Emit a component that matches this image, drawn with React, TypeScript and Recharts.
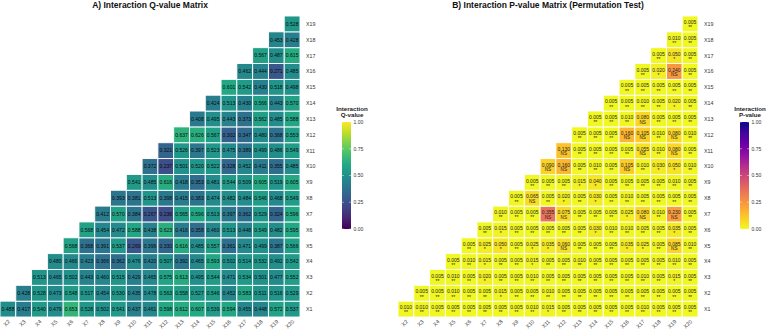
import { ScatterChart, Scatter, XAxis, YAxis } from "recharts";

const FONT = "'Liberation Sans', Arial, sans-serif";

// row variables X1..X19, column variables X2..X20
const ROW_IDS = [1, 2, 3, 4, 5, 6, 7, 8, 9, 10, 11, 12, 13, 14, 15, 16, 17, 18, 19];
const COL_IDS = [2, 3, 4, 5, 6, 7, 8, 9, 10, 11, 12, 13, 14, 15, 16, 17, 18, 19, 20];

// q-values, row Xi holds columns X(i+1)..X20
const qRows = [
  [0.488, 0.417, 0.54, 0.479, 0.653, 0.528, 0.502, 0.541, 0.437, 0.461, 0.598, 0.612, 0.607, 0.539, 0.594, 0.455, 0.448, 0.572, 0.537],
  [0.428, 0.528, 0.473, 0.548, 0.517, 0.454, 0.53, 0.435, 0.478, 0.563, 0.558, 0.527, 0.546, 0.452, 0.583, 0.511, 0.516, 0.529],
  [0.513, 0.465, 0.502, 0.443, 0.46, 0.515, 0.429, 0.465, 0.575, 0.613, 0.495, 0.544, 0.471, 0.534, 0.501, 0.477, 0.552],
  [0.48, 0.466, 0.423, 0.366, 0.362, 0.476, 0.42, 0.507, 0.392, 0.465, 0.593, 0.502, 0.514, 0.532, 0.492, 0.542],
  [0.568, 0.368, 0.391, 0.537, 0.269, 0.396, 0.33, 0.616, 0.485, 0.557, 0.361, 0.471, 0.499, 0.387, 0.566],
  [0.568, 0.454, 0.472, 0.588, 0.438, 0.623, 0.416, 0.358, 0.46, 0.513, 0.448, 0.549, 0.482, 0.595],
  [0.412, 0.57, 0.384, 0.267, 0.236, 0.565, 0.596, 0.513, 0.397, 0.362, 0.529, 0.324, 0.596],
  [0.393, 0.381, 0.513, 0.398, 0.415, 0.383, 0.474, 0.482, 0.484, 0.546, 0.468, 0.549],
  [0.541, 0.485, 0.616, 0.418, 0.353, 0.481, 0.544, 0.509, 0.605, 0.519, 0.605],
  [0.372, 0.237, 0.501, 0.52, 0.522, 0.328, 0.452, 0.411, 0.355, 0.485],
  [0.321, 0.526, 0.397, 0.523, 0.475, 0.389, 0.499, 0.486, 0.549],
  [0.637, 0.626, 0.567, 0.302, 0.347, 0.48, 0.368, 0.553],
  [0.408, 0.495, 0.443, 0.373, 0.562, 0.485, 0.588],
  [0.424, 0.513, 0.43, 0.566, 0.443, 0.57],
  [0.601, 0.542, 0.43, 0.518, 0.498],
  [0.462, 0.444, 0.271, 0.485],
  [0.567, 0.487, 0.615],
  [0.453, 0.428],
  [0.528],
];

// permutation p-values, same layout
const pRows = [
  [0.01, 0.01, 0.005, 0.005, 0.005, 0.005, 0.005, 0.005, 0.01, 0.015, 0.005, 0.005, 0.005, 0.005, 0.005, 0.01, 0.005, 0.005, 0.005],
  [0.005, 0.005, 0.01, 0.005, 0.005, 0.015, 0.005, 0.005, 0.01, 0.005, 0.005, 0.005, 0.005, 0.005, 0.005, 0.005, 0.005, 0.005],
  [0.005, 0.01, 0.005, 0.02, 0.005, 0.005, 0.01, 0.005, 0.005, 0.005, 0.005, 0.005, 0.005, 0.01, 0.005, 0.015, 0.005],
  [0.005, 0.01, 0.015, 0.005, 0.005, 0.015, 0.005, 0.005, 0.01, 0.005, 0.005, 0.005, 0.005, 0.005, 0.01, 0.005],
  [0.005, 0.025, 0.05, 0.005, 0.025, 0.035, 0.06, 0.005, 0.005, 0.005, 0.035, 0.025, 0.005, 0.085, 0.01],
  [0.005, 0.015, 0.005, 0.005, 0.005, 0.005, 0.005, 0.03, 0.01, 0.01, 0.005, 0.005, 0.035, 0.005],
  [0.01, 0.005, 0.005, 0.355, 0.075, 0.005, 0.005, 0.005, 0.025, 0.08, 0.01, 0.23, 0.005],
  [0.005, 0.065, 0.005, 0.02, 0.005, 0.03, 0.005, 0.01, 0.005, 0.005, 0.005, 0.005],
  [0.005, 0.005, 0.005, 0.015, 0.04, 0.005, 0.005, 0.005, 0.005, 0.01, 0.005],
  [0.09, 0.16, 0.005, 0.01, 0.005, 0.105, 0.01, 0.03, 0.05, 0.01],
  [0.13, 0.005, 0.005, 0.005, 0.005, 0.055, 0.01, 0.08, 0.005],
  [0.005, 0.005, 0.005, 0.16, 0.105, 0.01, 0.08, 0.01],
  [0.005, 0.005, 0.01, 0.08, 0.005, 0.005, 0.005],
  [0.005, 0.005, 0.01, 0.005, 0.02, 0.005],
  [0.005, 0.005, 0.005, 0.005, 0.005],
  [0.005, 0.02, 0.24, 0.005],
  [0.005, 0.05, 0.005],
  [0.01, 0.005],
  [0.005],
];

const LEGEND_TICKS = [0, 0.25, 0.5, 0.75, 1];

const VIRIDIS = ["#440154", "#482475", "#414487", "#355f8d", "#2a788e", "#21918c", "#22a884", "#44bf70", "#7ad151", "#bddf26", "#fde725"];
const PLASMA = ["#0d0887", "#41049d", "#6a00a8", "#8f0da4", "#b12a90", "#cc4778", "#e16462", "#f2844b", "#fca636", "#fcce25", "#f0f921"];

const hex = (h: string) => [1, 3, 5].map((i) => parseInt(h.slice(i, i + 2), 16));

function ramp(stops: string[], t: number) {
  const c = Math.max(0, Math.min(1, t)) * (stops.length - 1);
  const i = Math.min(stops.length - 2, Math.floor(c));
  const f = c - i;
  const a = hex(stops[i]);
  const b = hex(stops[i + 1]);
  const m = a.map((v, k) => Math.round(v + (b[k] - v) * f));
  return `rgb(${m[0]},${m[1]},${m[2]})`;
}

const stars = (p: number) => (p <= 0.001 ? "***" : p <= 0.01 ? "**" : p <= 0.05 ? "*" : "NS");

const toPoints = (rows: number[][]) =>
  rows.flatMap((vals, r) => vals.map((v, k) => ({ x: ROW_IDS[r] + 1 + k, y: ROW_IDS[r], v })));

const qData = toPoints(qRows);
const pData = toPoints(pRows);

const CHART_W = 330;
const CHART_H = 333;
const Y_AXIS_W = 30;
const X_AXIS_H = 16;
const TOP = 16;
const PLOT_W = CHART_W - Y_AXIS_W;
const PLOT_H = CHART_H - TOP - X_AXIS_H;
const CW = PLOT_W / COL_IDS.length;
const CH = PLOT_H / ROW_IDS.length;

const QCell = (props: any) => {
  const { cx, cy, payload } = props;
  return (
    <g>
      <rect x={cx - CW / 2} y={cy - CH / 2} width={CW} height={CH} fill={ramp(VIRIDIS, payload.v)} stroke="#fff" strokeWidth={0.9} />
      <text x={cx} y={cy + 1.8} textAnchor="middle" fontSize={5.1} fill="#0a0a0a" fontFamily={FONT}>
        {payload.v.toFixed(3)}
      </text>
    </g>
  );
};

const PCell = (props: any) => {
  const { cx, cy, payload } = props;
  const s = stars(payload.v);
  return (
    <g>
      <rect x={cx - CW / 2} y={cy - CH / 2} width={CW} height={CH} fill={ramp(PLASMA, 1 - payload.v)} stroke="#fff" strokeWidth={0.9} />
      <text x={cx} y={cy + 0.2} textAnchor="middle" fontSize={5} fill="#222" fontFamily={FONT}>
        {payload.v.toFixed(3)}
      </text>
      <text x={cx} y={s === "NS" ? cy + 4.6 : cy + 5.4} textAnchor="middle" fontSize={s === "NS" ? 4.6 : 5} fill="#222" fontFamily={FONT}>
        {s}
      </text>
    </g>
  );
};

const XTick = (props: any) => {
  const { x, y, payload } = props;
  const ax = x + 2.5;
  const ay = y + 5;
  return (
    <text x={ax} y={ay} transform={`rotate(-45 ${ax} ${ay})`} textAnchor="end" fontSize={5.4} fill="#333" fontFamily={FONT}>
      {`X${payload.value}`}
    </text>
  );
};

const YTick = (props: any) => {
  const { x, y, payload } = props;
  return (
    <text x={x + 6} y={y + 1.9} textAnchor="start" fontSize={5.3} fill="#333" fontFamily={FONT}>
      {`X${payload.value}`}
    </text>
  );
};

const Matrix = ({ data, cell, left }: { data: any[]; cell: any; left: number }) => (
  <div style={{ position: "absolute", left, top: 0 }}>
    <ScatterChart width={CHART_W} height={CHART_H} margin={{ top: TOP, right: 0, bottom: 0, left: 0 }}>
      <XAxis
        type="number"
        dataKey="x"
        domain={[1.5, 20.5]}
        ticks={COL_IDS}
        interval={0}
        allowDataOverflow
        axisLine={false}
        tickLine={false}
        tickSize={0}
        tickMargin={0}
        height={X_AXIS_H}
        tick={XTick}
      />
      <YAxis
        type="number"
        dataKey="y"
        orientation="right"
        domain={[0.5, 19.5]}
        ticks={ROW_IDS}
        interval={0}
        allowDataOverflow
        axisLine={false}
        tickLine={false}
        tickSize={0}
        tickMargin={0}
        width={Y_AXIS_W}
        tick={YTick}
      />
      <Scatter data={data} shape={cell} isAnimationActive={false} />
    </ScatterChart>
  </div>
);

const ColorBar = ({ id, stops, reverse, left, title }: { id: string; stops: string[]; reverse: boolean; left: number; title: string }) => {
  const barY = 22;
  const barH = 107;
  const barW = 9;
  const cols = reverse ? [...stops] : [...stops].reverse();
  return (
    <svg width={50} height={140} style={{ position: "absolute", left: left - 10, top: 100, overflow: "visible" }}>
      <defs>
        <linearGradient id={id} x1="0" y1="0" x2="0" y2="1">
          {cols.map((c, i) => (
            <stop key={i} offset={i / (cols.length - 1)} stopColor={c} />
          ))}
        </linearGradient>
      </defs>
      <text x={20} y={10.5} textAnchor="middle" fontSize={6.2} fontWeight="bold" fill="#222" fontFamily={FONT}>
        Interaction
      </text>
      <text x={20} y={17} textAnchor="middle" fontSize={6.2} fontWeight="bold" fill="#222" fontFamily={FONT}>
        {title}
      </text>
      <rect x={10} y={barY} width={barW} height={barH} fill={`url(#${id})`} />
      {LEGEND_TICKS.map((t) => {
        const ty = barY + barH * (1 - t);
        return (
          <g key={t}>
            <line x1={10} x2={11.8} y1={ty} y2={ty} stroke="#fff" strokeWidth={0.5} />
            <line x1={10 + barW - 1.8} x2={10 + barW} y1={ty} y2={ty} stroke="#fff" strokeWidth={0.5} />
            <text x={21.5} y={ty + 1.8} fontSize={5} fill="#333" fontFamily={FONT}>
              {t.toFixed(2)}
            </text>
          </g>
        );
      })}
    </svg>
  );
};

export default function App() {
  return (
    <div style={{ position: "absolute", left: 0, top: 0, width: 767, height: 333, background: "#fff", overflow: "hidden" }}>
      <div style={{ position: "absolute", left: 0, width: 300, top: 0, textAlign: "center", fontFamily: FONT, fontWeight: "bold", fontSize: 8.5, color: "#111" }}>
        A) Interaction Q-value Matrix
      </div>
      <div style={{ position: "absolute", left: 398, width: 300, top: 0, textAlign: "center", fontFamily: FONT, fontWeight: "bold", fontSize: 8.5, color: "#111" }}>
        B) Interaction P-value Matrix (Permutation Test)
      </div>
      <Matrix data={qData} cell={QCell} left={0} />
      <Matrix data={pData} cell={PCell} left={398} />
      <ColorBar id="qgrad" stops={VIRIDIS} reverse={false} left={342} title="Q-value" />
      <ColorBar id="pgrad" stops={PLASMA} reverse={true} left={740} title="P-value" />
    </div>
  );
}
